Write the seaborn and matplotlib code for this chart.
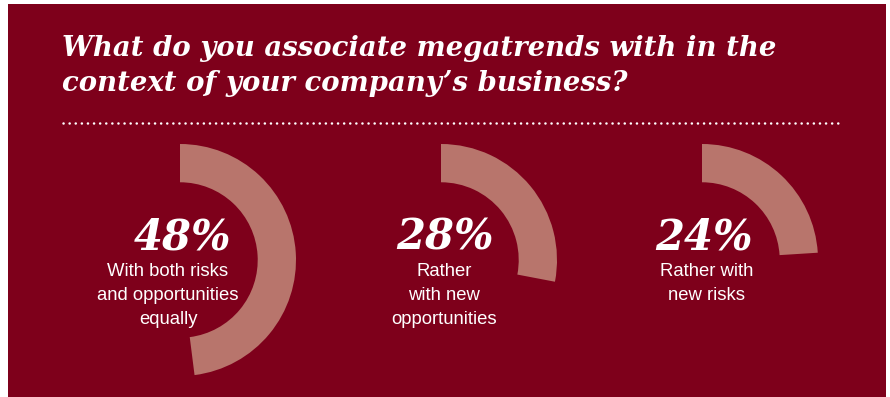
import matplotlib
matplotlib.use("Agg")
import matplotlib.pyplot as plt
from matplotlib.patches import Rectangle
import seaborn as sns

# Survey answers (share of respondents, %)
shares = [48, 28, 24]
descriptions = [
    "With both risks\nand opportunities\nequally",
    "Rather\nwith new\nopportunities",
    "Rather with\nnew risks",
]
title_lines = [
    "What do you associate megatrends with in the",
    "context of your company\u2019s business?",
]

sns.set_theme(style="white")

W, H = 890, 397
BG = "#7e001b"
ARC = "#b8756c"
TXT = "#ffffff"

fig = plt.figure(figsize=(W / 100, H / 100), dpi=100)
fig.patch.set_facecolor("white")

# full-figure canvas in pixel coordinates
canvas = fig.add_axes([0, 0, 1, 1])
canvas.set_xlim(0, W)
canvas.set_ylim(H, 0)
canvas.axis("off")
canvas.add_patch(Rectangle((8, 4), 878, 393, facecolor=BG, edgecolor="none", zorder=0))

serif = ["DejaVu Serif"]
for i, line in enumerate(title_lines):
    canvas.text(62, 56 + 35 * i, line, color=TXT, fontsize=19.8, fontweight="bold",
                fontstyle="italic", family=serif, ha="left", va="baseline")

# dotted rule under the title
canvas.plot([63, 842], [123, 123], color=TXT, linewidth=1.8,
            linestyle=(0, (0.05, 2.39)), dash_capstyle="round", zorder=3)

# donut segments, one per answer
centers_x = [180, 441, 702]
center_y = 260
R = 116
ring = 0.33
pct_dx = [2, 4, 2]
desc_dx = [-12, 3, 5]

for v, desc, cx, pdx, ddx in zip(shares, descriptions, centers_x, pct_dx, desc_dx):
    ax = fig.add_axes([(cx - R) / W, (H - center_y - R) / H, 2 * R / W, 2 * R / H])
    ax.pie([v, 100 - v], colors=[ARC, (0, 0, 0, 0)], startangle=90, counterclock=False,
           radius=1.0, wedgeprops=dict(width=ring, edgecolor="none", linewidth=0))
    ax.set_xlim(-1, 1)
    ax.set_ylim(-1, 1)
    ax.set_facecolor((0, 0, 0, 0))
    ax.axis("off")

    canvas.text(cx + pdx, 249, f"{v}%", color=TXT, fontsize=30, fontweight="bold",
                fontstyle="italic", family=serif, ha="center", va="baseline", zorder=5)
    canvas.text(cx + ddx, 263.5, desc, color=TXT, fontsize=13.3, family=["Liberation Sans"],
                ha="center", va="top", linespacing=1.53, zorder=5,
                multialignment="center")

fig.savefig("out.png", dpi=100, facecolor=fig.get_facecolor())
